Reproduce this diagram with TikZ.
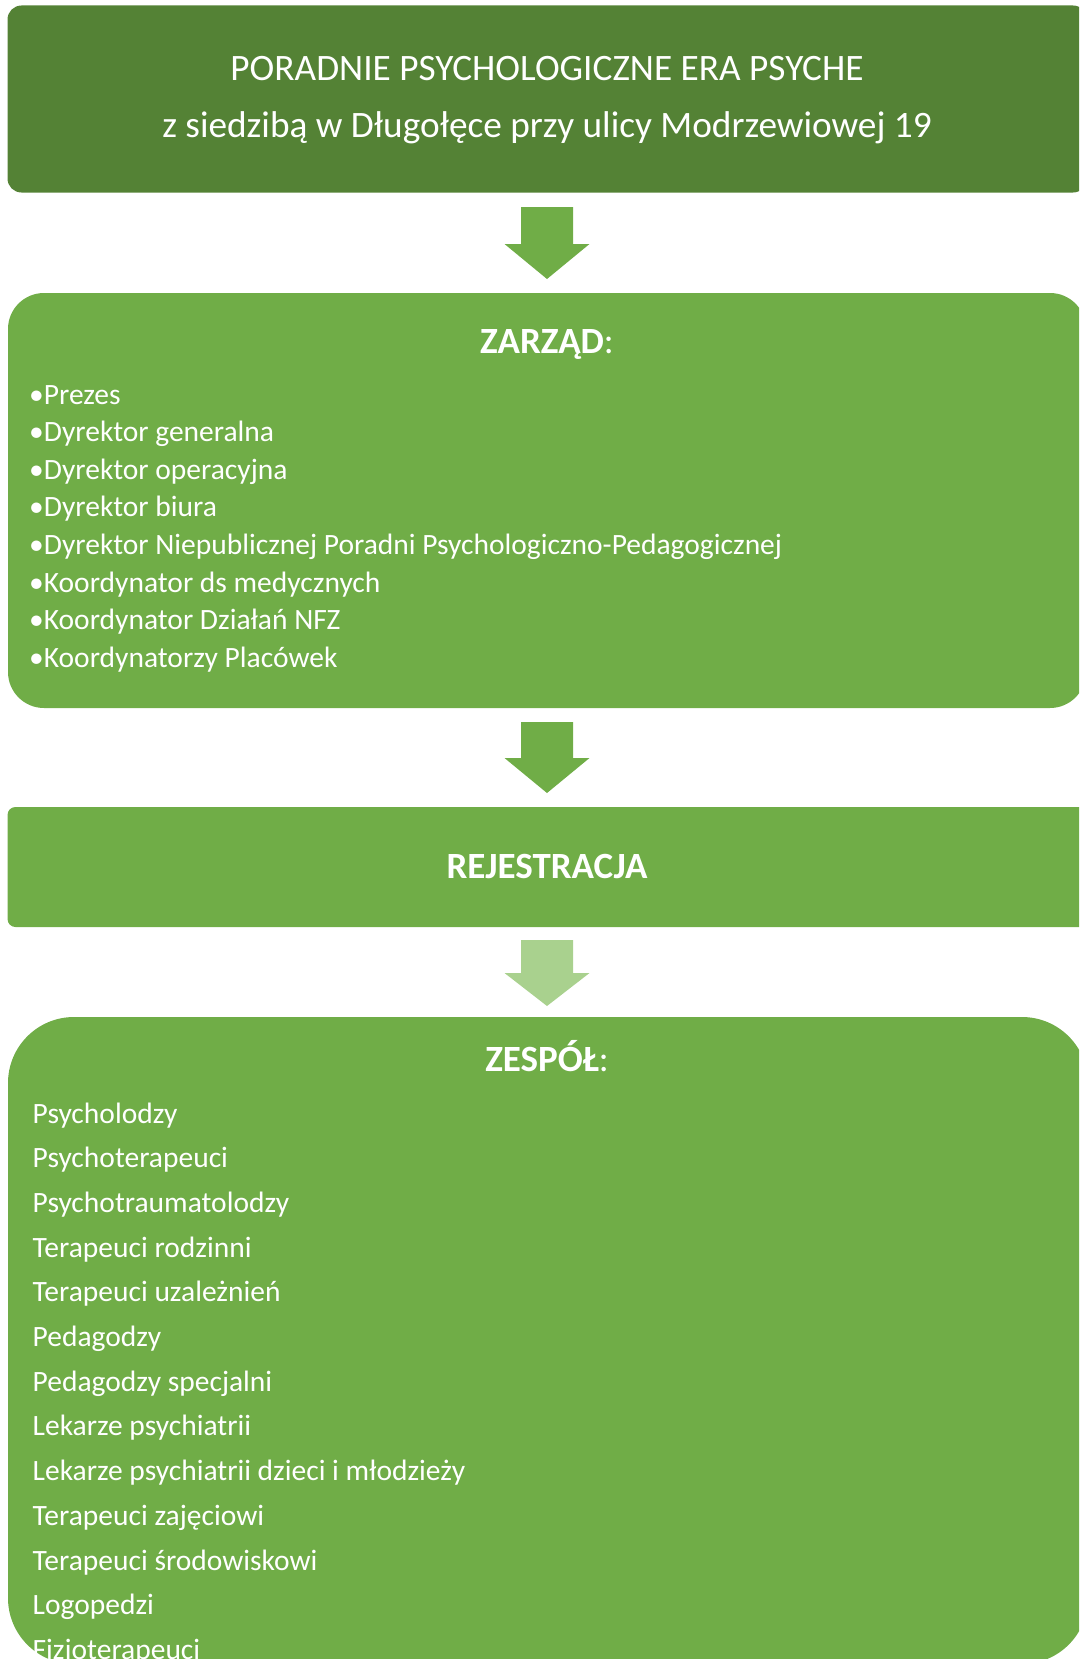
\documentclass[tikz,border=0pt]{standalone}
\usepackage{fontspec}
\setmainfont{Carlito}
\definecolor{darkg}{HTML}{548235}
\definecolor{midg}{HTML}{70AD47}
\definecolor{lightg}{HTML}{A9D18E}
\tikzset{
  box/.style={draw=none, inner sep=0pt, outer sep=0pt},
  headtxt/.style={anchor=base, text=white, inner sep=0pt, font=\fontsize{37.3}{42}\selectfont},
  titletxt/.style={anchor=base, text=white, inner sep=0pt, font=\fontsize{37}{42}\selectfont},
  itemtxt/.style={anchor=base west, text=white, inner sep=0pt, font=\fontsize{29.5}{36}\selectfont},
}
\begin{document}
\begin{tikzpicture}[x=1pt,y=-1pt]
\useasboundingbox (0,0) rectangle (1079,1659);
\clip (0,0) rectangle (1079,1659);
% boxes
\node[box, fill=darkg, rounded corners=14pt, minimum width=1079.5pt, minimum height=187pt] (top) at (547.25,99) {};
\node[box, fill=midg, rounded corners=36pt, minimum width=1078pt, minimum height=415pt] (zarzad) at (547,500.5) {};
\node[box, fill=midg, rounded corners=8pt, minimum width=1079.5pt, minimum height=120pt] (rej) at (547.25,867) {};
\node[box, fill=midg, rounded corners=66pt, minimum width=1080pt, minimum height=647pt] (zesp) at (548,1340.5) {};
% block arrows
\coordinate (a1) at (547,207);
\coordinate (a2) at (547,722);
\coordinate (a3) at (547,940);
\fill[midg, shift={(a1)}] (-26,0) -- (26,0) -- (26,37) -- (42.5,37) -- (0,72) -- (-42.5,37) -- (-26,37) -- cycle;
\fill[midg, shift={(a2)}] (-26,0) -- (26,0) -- (26,36) -- (42.5,36) -- (0,71) -- (-42.5,36) -- (-26,36) -- cycle;
\fill[lightg, shift={(a3)}] (-26,0) -- (26,0) -- (26,33) -- (42.5,33) -- (0,66) -- (-42.5,33) -- (-26,33) -- cycle;
% header text
\node[headtxt] (h1) at (547,81) {PORADNIE PSYCHOLOGICZNE ERA PSYCHE};
\node[headtxt] (h2) at (547,138) {z siedzibą w Długołęce przy ulicy Modrzewiowej 19};
% titles
\node[titletxt] (tz) at (547,353) {\textbf{ZARZĄD}:};
\node[titletxt] (tr) at (547,878) {\textbf{REJESTRACJA}};
\node[titletxt] (te) at (547,1071) {\textbf{ZESPÓŁ}:};
% zarzad list
\node[itemtxt] (z1) at (29,404) {•Prezes};
\node[itemtxt] (z2) at (29,441.6) {•Dyrektor generalna};
\node[itemtxt] (z3) at (29,479.2) {•Dyrektor operacyjna};
\node[itemtxt] (z4) at (29,516.8) {•Dyrektor biura};
\node[itemtxt] (z5) at (29,554.4) {•Dyrektor Niepublicznej Poradni Psychologiczno-Pedagogicznej};
\node[itemtxt] (z6) at (29,592.0) {•Koordynator ds medycznych};
\node[itemtxt] (z7) at (29,629.6) {•Koordynator Działań NFZ};
\node[itemtxt] (z8) at (29,667.2) {•Koordynatorzy Placówek};
% zespol list
\node[itemtxt] (e1) at (32.5,1123) {Psycholodzy};
\node[itemtxt] (e2) at (32.5,1167.7) {Psychoterapeuci};
\node[itemtxt] (e3) at (32.5,1212.4) {Psychotraumatolodzy};
\node[itemtxt] (e4) at (32.5,1257.1) {Terapeuci rodzinni};
\node[itemtxt] (e5) at (32.5,1301.8) {Terapeuci uzależnień};
\node[itemtxt] (e6) at (32.5,1346.5) {Pedagodzy};
\node[itemtxt] (e7) at (32.5,1391.2) {Pedagodzy specjalni};
\node[itemtxt] (e8) at (32.5,1435.9) {Lekarze psychiatrii};
\node[itemtxt] (e9) at (32.5,1480.6) {Lekarze psychiatrii dzieci i młodzieży};
\node[itemtxt] (e10) at (32.5,1525.3) {Terapeuci zajęciowi};
\node[itemtxt] (e11) at (32.5,1570.0) {Terapeuci środowiskowi};
\node[itemtxt] (e12) at (32.5,1614.7) {Logopedzi};
\node[itemtxt] (e13) at (32.5,1659.4) {Fizjoterapeuci};
\end{tikzpicture}
\end{document}
